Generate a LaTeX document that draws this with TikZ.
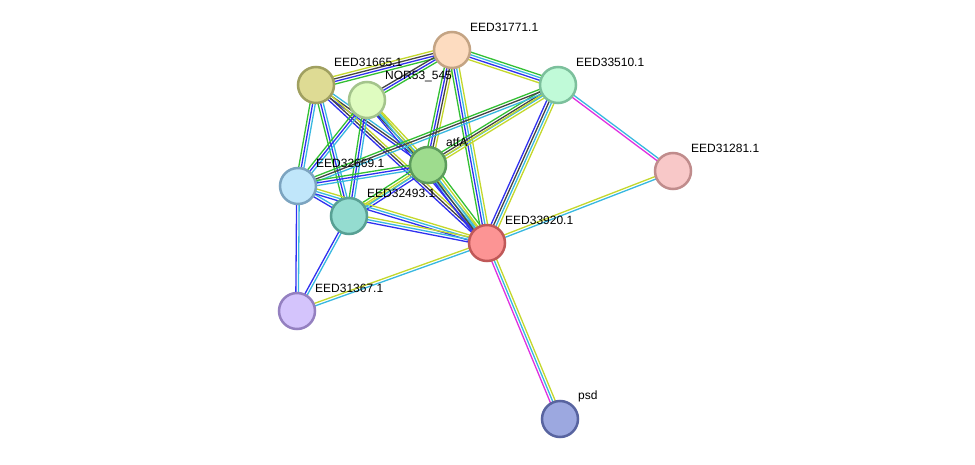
\documentclass[tikz,border=0pt]{standalone}
\usepackage{fontspec}
\setmainfont{Liberation Sans}
\usetikzlibrary{calc}
\pgfdeclarelayer{back}
\pgfdeclarelayer{bg}
\pgfsetlayers{back,bg,main}
\definecolor{cgreen}{HTML}{33C033}
\definecolor{cblue}{HTML}{3030F0}
\definecolor{ccyan}{HTML}{38B8E0}
\definecolor{cblack}{HTML}{444444}
\definecolor{cyel}{HTML}{C4D82C}
\definecolor{cmag}{HTML}{E030E0}
\tikzset{
  prot/.style={circle, minimum size=36pt, inner sep=0pt, line width=2.5pt},
  lab/.style={font=\fontsize{12}{14}\selectfont, anchor=west, inner sep=0pt}
}
\newcommand{\sedge}[3]{%
  \foreach \c [count=\i] in {#3} {\xdef\ncount{\i}}%
  \foreach \c [count=\i] in {#3} {%
    \pgfmathsetmacro{\off}{(\i-(\ncount+1)/2)*2.6}%
    \draw[line width=1.3pt, \c] ($(#1)!\off pt!90:(#2)$) -- ($(#2)!\off pt!-90:(#1)$);
  }%
}
\begin{document}
\begin{tikzpicture}[x=1pt,y=-1pt]
\begin{pgfonlayer}{back}
\fill[white] (0,0) rectangle (975,465);
\end{pgfonlayer}
\useasboundingbox (0,0) rectangle (975,465);
\node[prot, fill={rgb,255:red,253;green,220;blue,192}, draw={rgb,255:red,196;green,164;blue,132}] (n71) at (452,50) {};
\node[prot, fill={rgb,255:red,222;green,219;blue,148}, draw={rgb,255:red,160;green,160;blue,96}] (n65) at (316,85) {};
\node[prot, fill={rgb,255:red,223;green,252;blue,192}, draw={rgb,255:red,164;green,196;blue,140}] (nor) at (367,100) {};
\node[prot, fill={rgb,255:red,192;green,250;blue,216}, draw={rgb,255:red,124;green,192;blue,156}] (n10) at (558,85) {};
\node[prot, fill={rgb,255:red,158;green,220;blue,142}, draw={rgb,255:red,92;green,156;blue,92}] (atf) at (428,165) {};
\node[prot, fill={rgb,255:red,192;green,230;blue,250}, draw={rgb,255:red,124;green,164;blue,192}] (n69) at (298,186) {};
\node[prot, fill={rgb,255:red,148;green,220;blue,208}, draw={rgb,255:red,88;green,160;blue,148}] (n93) at (349,216) {};
\node[prot, fill={rgb,255:red,252;green,148;blue,148}, draw={rgb,255:red,192;green,88;blue,88}] (n20) at (487,243) {};
\node[prot, fill={rgb,255:red,248;green,200;blue,200}, draw={rgb,255:red,192;green,140;blue,140}] (n81) at (673,171) {};
\node[prot, fill={rgb,255:red,212;green,196;blue,252}, draw={rgb,255:red,148;green,128;blue,192}] (n67) at (297,311) {};
\node[prot, fill={rgb,255:red,156;green,168;blue,224}, draw={rgb,255:red,88;green,100;blue,160}] (psd) at (560,419) {};
\begin{pgfonlayer}{bg}
\sedge{n71}{n65}{cyel,cblack,cblue,cgreen}
\sedge{n71}{nor}{cblack,cblue,cgreen}
\sedge{n71}{n10}{cyel,cblue,ccyan,cgreen}
\sedge{n71}{atf}{cgreen,cblue,cblack,cyel}
\sedge{n71}{n20}{cgreen,cblue,ccyan,cyel}
\sedge{n65}{n69}{cgreen,cblue,ccyan}
\sedge{n65}{n93}{cgreen,cblue,ccyan}
\sedge{n65}{atf}{cblue,cblack,ccyan}
\sedge{n65}{n20}{cblue,cblack,cyel}
\sedge{nor}{n69}{cgreen,cblue,ccyan}
\sedge{nor}{n93}{cgreen,cblue,ccyan}
\sedge{nor}{atf}{cblack,ccyan,cyel}
\sedge{nor}{n20}{cblue,ccyan,cyel}
\sedge{n10}{atf}{cgreen,cblack,ccyan,cyel}
\sedge{n10}{n69}{cgreen,cblack,ccyan}
\sedge{n10}{n93}{cyel}
\sedge{n10}{n20}{cblue,cblack,ccyan,cyel}
\sedge{n10}{n81}{cmag,ccyan}
\sedge{atf}{n69}{cgreen,cblue,ccyan}
\sedge{atf}{n93}{cgreen,cyel,ccyan,cblue}
\sedge{atf}{n20}{cblue,cblack,ccyan,cyel,cgreen}
\sedge{n69}{n93}{cblue,ccyan}
\sedge{n69}{n20}{cblue,ccyan,cyel}
\sedge{n69}{n67}{cblue,ccyan}
\sedge{n93}{n20}{cblue,ccyan,cyel}
\sedge{n93}{n67}{cblue,ccyan}
\sedge{n20}{n81}{ccyan,cyel}
\sedge{n20}{n67}{cyel,ccyan}
\sedge{n20}{psd}{cmag,ccyan,cyel}
\end{pgfonlayer}
\node[lab] (l71) at ($(n71)+(18,-23)$) {EED31771.1};
\node[lab] (l65) at ($(n65)+(18,-23)$) {EED31665.1};
\node[lab] (lnor) at ($(nor)+(18,-23)$) {NOR53\_545};
\node[lab] (l10) at ($(n10)+(18,-23)$) {EED33510.1};
\node[lab] (latf) at ($(atf)+(18,-23)$) {atfA};
\node[lab] (l69) at ($(n69)+(18,-23)$) {EED32669.1};
\node[lab] (l93) at ($(n93)+(18,-23)$) {EED32493.1};
\node[lab] (l20) at ($(n20)+(18,-23)$) {EED33920.1};
\node[lab] (l81) at ($(n81)+(18,-23)$) {EED31281.1};
\node[lab] (l67) at ($(n67)+(18,-23)$) {EED31367.1};
\node[lab] (lpsd) at ($(psd)+(18,-23)$) {psd};
\end{tikzpicture}
\end{document}
